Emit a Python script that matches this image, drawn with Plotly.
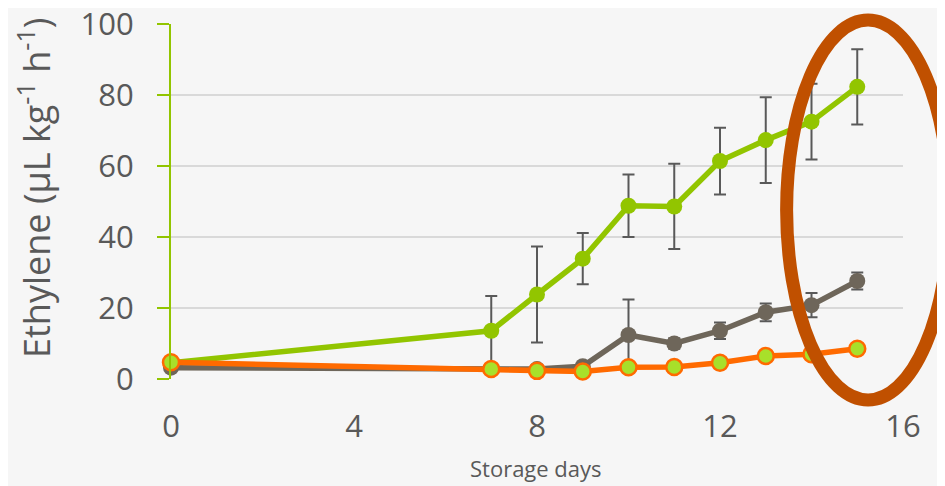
import plotly.graph_objects as go

days = [0, 7, 8, 9, 10, 11, 12, 13, 14, 15]
green_vals = [4.6, 13.6, 23.8, 33.9, 48.8, 48.6, 61.4, 67.3, 72.5, 82.3]
green_err = [0.5, 9.8, 13.5, 7.2, 8.8, 12.0, 9.4, 12.1, 10.7, 10.6]
grey_vals = [3.2, 2.7, 2.8, 3.6, 12.4, 10.0, 13.6, 18.8, 20.8, 27.6]
grey_err = [0.3, 0.3, 0.4, 0.6, 10.0, 1.5, 2.3, 2.5, 3.4, 2.4]
orange_vals = [4.7, 2.8, 2.3, 2.1, 3.3, 3.4, 4.6, 6.5, 7.0, 8.5]
x_ticks = [0, 4, 8, 12, 16]
y_ticks = [0, 20, 40, 60, 80, 100]

GREEN = "#92C500"
GREY = "#6E665A"
ORANGE = "#FF6A00"
LIME = "#A8E02A"
TXT = "#595959"
BG = "#F6F6F6"

fig = go.Figure()
fig.add_trace(go.Scatter(
    x=days, y=green_vals, mode="lines+markers",
    line=dict(color=GREEN, width=5.5),
    marker=dict(color=GREEN, size=16),
    error_y=dict(type="data", array=green_err, color="#595959", thickness=2, width=6),
    cliponaxis=False, showlegend=False))
fig.add_trace(go.Scatter(
    x=days, y=grey_vals, mode="lines+markers",
    line=dict(color=GREY, width=5.5),
    marker=dict(color=GREY, size=16),
    error_y=dict(type="data", array=grey_err, color="#595959", thickness=2, width=6),
    cliponaxis=False, showlegend=False))
fig.add_trace(go.Scatter(
    x=days, y=orange_vals, mode="lines+markers",
    line=dict(color=ORANGE, width=5.5),
    marker=dict(color=LIME, size=16, line=dict(color=ORANGE, width=2.5)),
    cliponaxis=False, showlegend=False))

fig.add_shape(type="circle", xref="paper", yref="paper",
              x0=0.841, x1=1.0635, y0=-0.059, y1=1.011,
              line=dict(color="#C05000", width=13), layer="above")

fig.add_annotation(xref="paper", yref="paper", x=(34 - 171) / 732, y=(379 - 188) / 355,
                   text="Ethylene (µL kg<sup>-1</sup> h<sup>-1</sup>)", textangle=-90,
                   showarrow=False, xanchor="center", yanchor="middle",
                   font=dict(size=36, color=TXT, family="Open Sans"))
fig.add_annotation(xref="paper", yref="paper", x=(536 - 171) / 732, y=(379 - 468) / 355,
                   text="Storage days", showarrow=False, xanchor="center", yanchor="middle",
                   font=dict(size=22, color=TXT, family="Open Sans"))

# page body has an 8px margin: compensate so the plot lands at the reference pixels
fig.update_layout(
    width=937, height=478,
    margin=dict(l=163, r=42, t=16, b=107, autoexpand=False),
    paper_bgcolor=BG, plot_bgcolor=BG,
    font=dict(family="Open Sans", color=TXT),
    xaxis=dict(range=[0, 16], tickvals=x_ticks, showgrid=False, zeroline=False,
               showline=False, ticks="", tickfont=dict(size=31, color=TXT),
               ticklabelstandoff=26, automargin=False, ticklabeloverflow="allow"),
    yaxis=dict(range=[0, 100], tickvals=y_ticks, showgrid=True, gridcolor="#D9D9D9",
               gridwidth=1.5, zeroline=False, showline=True, linecolor=GREEN, linewidth=2,
               ticks="outside", ticklen=12, tickcolor=GREEN, tickwidth=2,
               tickfont=dict(size=31, color=TXT), ticklabelstandoff=17, automargin=False,
               ticklabeloverflow="allow"),
)

fig.write_html("out.html")
